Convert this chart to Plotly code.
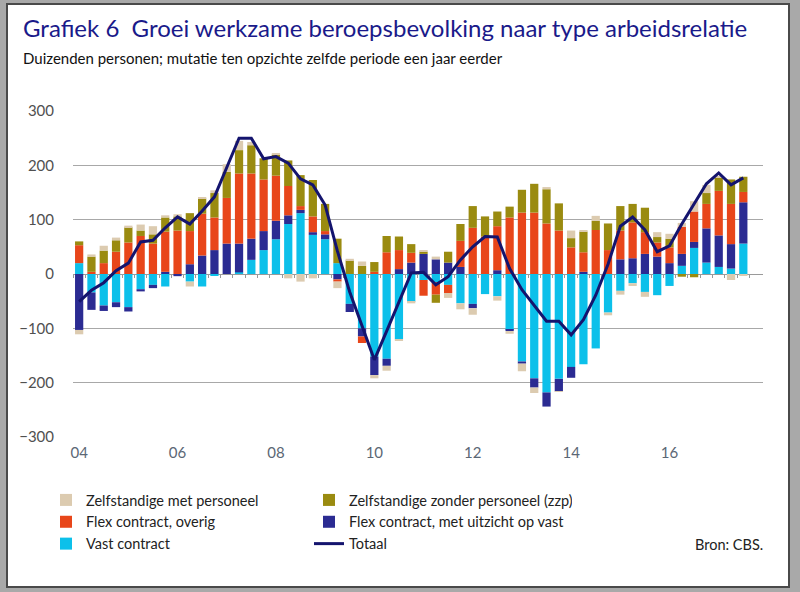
import plotly.graph_objects as go

# ---- data (duizenden personen, mutatie t.o.v. zelfde kwartaal jaar eerder) ----
years = list(range(2004, 2018))
quarters = [f"{y}K{q}" for y in years for q in range(1, 5)][:55]   # 2004K1 .. 2017K3

vast_contract = [20, -34, -58, -52, -61, -28, -20, -23, 0, -14,
                 -23, -3, 0, 3, 26, 44, 64, 92, 112, 72,
                 64, 20, -55, -100, -152, -156, -120, -51, -11, -15,
                 -20, -54, -55, -37, -41, -103, -161, -192, -218, -193,
                 -171, -166, -137, -71, -31, -17, -33, -39, -22, 15,
                 48, 21, 13, 10, 56]
flex_uitzicht = [-103, -32, -10, -9, -8, -4, -6, 4, -4, 18,
                 34, 44, 56, 53, 39, 35, 34, 16, 6, 5,
                 9, -10, -15, -15, -34, -13, 9, 21, 37, 27,
                 21, 13, -8, 0, 7, -2, -4, -17, -26, -23,
                 -20, 4, 0, 0, 27, 29, 37, 32, 20, 22,
                 11, 63, 58, 45, 76]
flex_overig = [33, 4, 20, 41, 58, 70, 56, 74, 80, 61,
               77, 60, 84, 129, 120, 95, 83, 54, 7, 29,
               6, -4, 0, -12, 4, 40, 35, 18, -29, -23,
               -15, 48, 85, 69, 81, 104, 113, 113, 93, 80,
               49, 36, 81, 44, 53, 66, 40, 26, 29, 50,
               56, 45, 82, 74, 19]
zzp = [7, 28, 23, 21, 28, 10, 17, 26, 26, 33,
       28, 45, 48, 43, 52, 39, 39, 47, 57, 67,
       50, 45, 25, 15, 18, 30, 25, 16, 4, -15,
       20, 31, 40, 37, 27, 20, 42, 53, 63, 50,
       17, 38, 17, 49, 45, 34, 45, 10, 16, -5,
       -6, 20, 24, 45, 28]
zelfst_met_personeel = [-8, 4, 9, 5, 3, 11, 15, 4, 4, -9,
                        2, 5, 14, 17, 6, 0, 2, -8, -14, -8,
                        0, -12, 3, 8, -6, -9, -3, -3, 2, 5,
                        -9, -11, -12, 0, -8, -5, -14, -10, 4, -1,
                        14, 3, 9, -5, -7, -5, -9, 9, 9, 7,
                        19, 15, 3, -11, -3]
totaal = [-51, -30, -16, 6, 20, 59, 62, 85, 105, 92,
          116, 142, 196, 250, 250, 212, 216, 204, 175, 164,
          127, 42, -33, -97, -158, -105, -51, 2, 3, -20,
          -5, 26, 50, 69, 68, 10, -29, -57, -87, -87,
          -112, -84, -39, 18, 88, 105, 81, 41, 52, 92,
          130, 166, 186, 164, 177]

tick_positions = [0, 8, 16, 24, 32, 40, 48]
tick_labels = ["04", "06", "08", "10", "12", "14", "16"]

series = [
    ("Vast contract", vast_contract, "#0cc0ea", 5),
    ("Flex contract, met uitzicht op vast", flex_uitzicht, "#2b2b92", 4),
    ("Flex contract, overig", flex_overig, "#e8461a", 3),
    ("Zelfstandige zonder personeel (zzp)", zzp, "#9a8b10", 2),
    ("Zelfstandige met personeel", zelfst_met_personeel, "#dccbb0", 1),
]

# ---- geometry helpers (pixels -> paper) ----
W, H = 800, 592
L, R, T, B = 73, 37, 111, 155
PW, PH = W - L - R, H - T - B
def px(x):
    return (x - L) / PW
def py(y):
    return (H - B - y) / PH

FONT = "Lato"
xpos = list(range(len(quarters)))

fig = go.Figure()
for name, vals, col, rank in series:
    fig.add_trace(go.Bar(x=xpos, y=vals, name=name, marker_color=col,
                         marker_line_width=0, legendrank=rank,
                         customdata=quarters,
                         hovertemplate="%{customdata}: %{y}<extra>" + name + "</extra>"))
fig.add_trace(go.Scatter(x=xpos, y=totaal, name="Totaal", mode="lines",
                         line=dict(color="#14146e", width=3), legendrank=6,
                         customdata=quarters,
                         hovertemplate="%{customdata}: %{y}<extra>Totaal</extra>"))
# dummy trace for the zero-line axis with quarter ticks
fig.add_trace(go.Scatter(x=[None], y=[None], xaxis="x2", showlegend=False,
                         hoverinfo="skip"))

xr = [-0.5, 55.6]
fig.update_layout(
    width=W, height=H,
    margin=dict(l=L, r=R, t=T, b=B, autoexpand=False),
    paper_bgcolor="#a9a9a9", plot_bgcolor="white",
    barmode="relative", bargap=0.33,
    font=dict(family=FONT, size=14, color="#222"),
    xaxis=dict(range=xr, tickvals=tick_positions, ticktext=tick_labels,
               showgrid=False, zeroline=False, showline=False, ticks="",
               ticklabelstandoff=5,
               tickfont=dict(size=15, color="#5b6775"), fixedrange=True),
    xaxis2=dict(range=xr, overlaying="x", anchor="free", position=0.5,
                tickvals=[i - 0.5 for i in range(len(quarters) + 1)],
                ticks="outside", ticklen=3, tickcolor="#999", showline=True,
                linecolor="#9a9a9a", linewidth=1, showticklabels=False,
                showgrid=False, zeroline=False, layer="below traces"),
    yaxis=dict(range=[-300, 300], dtick=100, gridcolor="#a8a8a8", gridwidth=1,
               zeroline=False, showline=False, ticks="",
               ticklabelstandoff=18,
               tickfont=dict(size=15, color="#505050")),
    legend=dict(orientation="h", x=px(46), y=py(484), xanchor="left",
                yanchor="top", entrywidth=218, bgcolor="rgba(0,0,0,0)",
                font=dict(size=14.5, color="#222"), itemwidth=30),
    showlegend=True,
)

# frame: white card with dark border on grey background
fig.add_shape(type="rect", xref="paper", yref="paper",
              x0=px(7), x1=px(789), y0=py(587), y1=py(4),
              fillcolor="white", line=dict(color="#4a4a4a", width=2),
              layer="below")

fig.add_annotation(xref="paper", yref="paper", x=px(21), y=py(28),
                   xanchor="left", yanchor="middle", showarrow=False,
                   text="Grafiek 6  Groei werkzame beroepsbevolking naar type arbeidsrelatie",
                   font=dict(family=FONT, size=24, color="#1a1a8a"))
fig.add_annotation(xref="paper", yref="paper", x=px(21), y=py(58),
                   xanchor="left", yanchor="middle", showarrow=False,
                   text="Duizenden personen; mutatie ten opzichte zelfde periode een jaar eerder",
                   font=dict(family=FONT, size=15, color="#111"))
fig.add_annotation(xref="paper", yref="paper", x=px(765), y=py(544),
                   xanchor="right", yanchor="middle", showarrow=False,
                   text="Bron: CBS.", font=dict(family=FONT, size=14.5, color="#222"))

fig.write_html("out.html",
               config={"displayModeBar": False},
               post_script="document.body.style.margin='0';document.body.style.overflow='hidden';")
